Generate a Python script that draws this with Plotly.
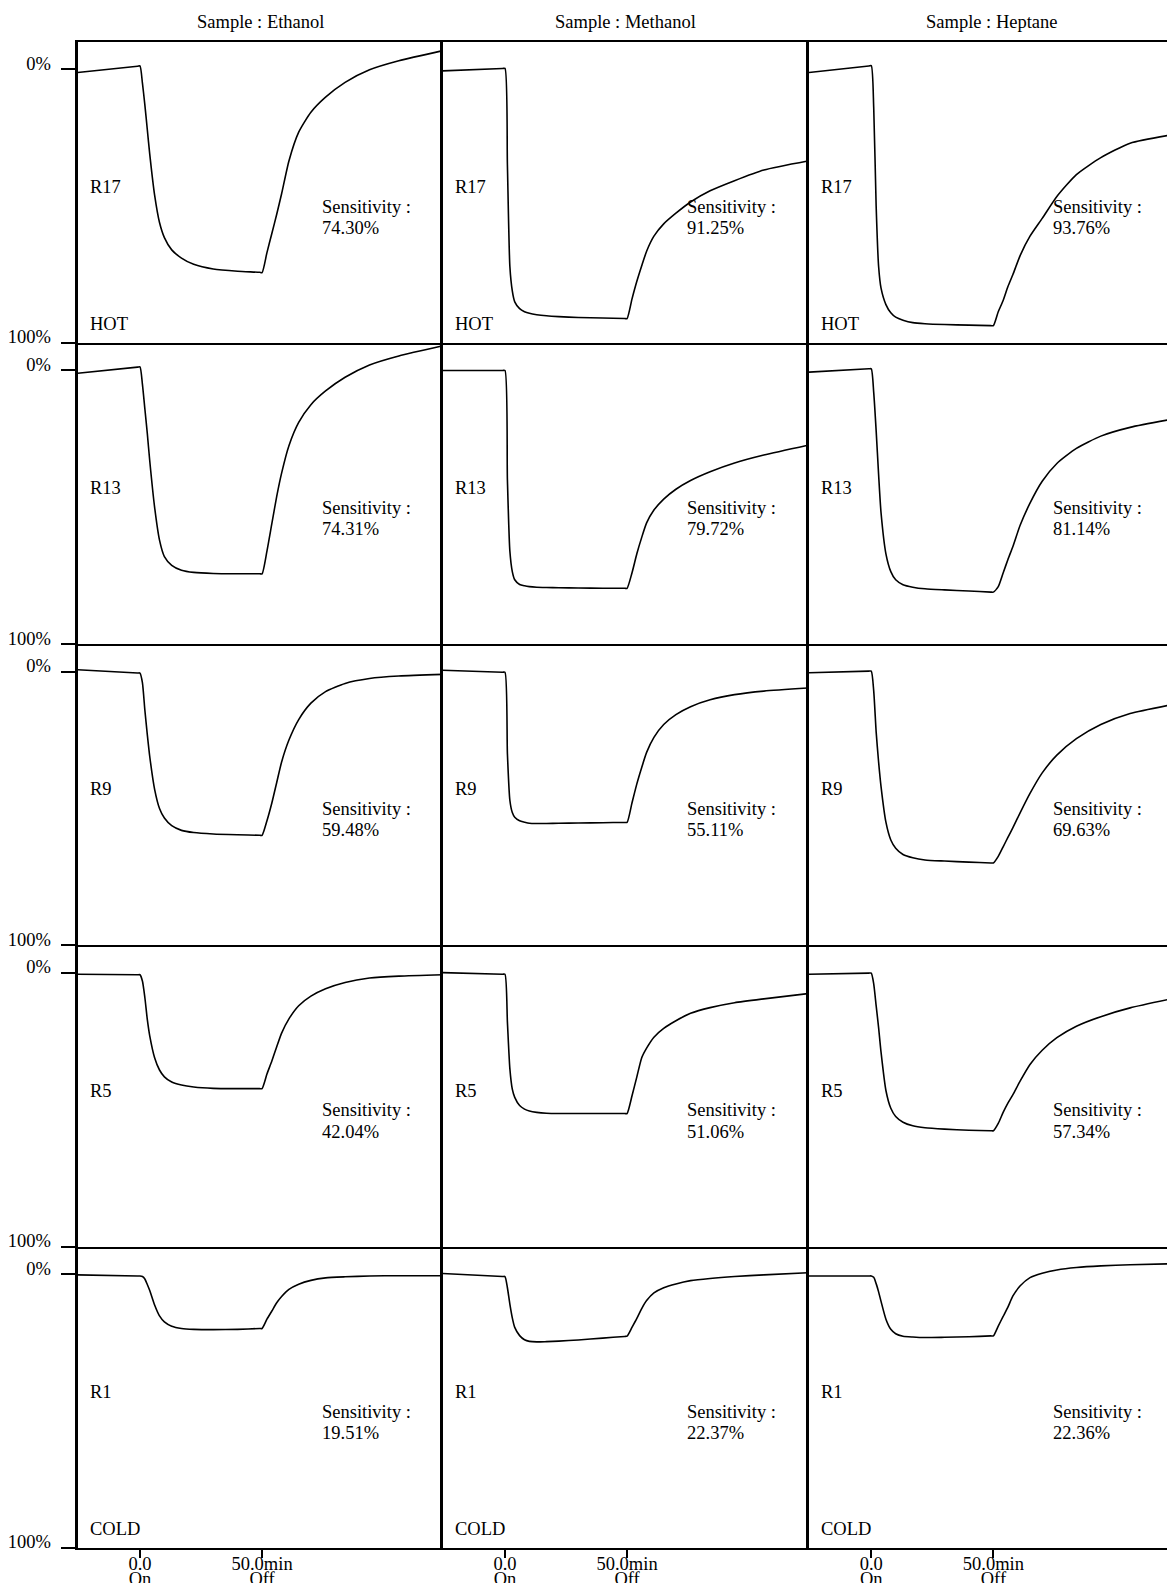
import plotly.graph_objects as go

# ---------------- data ----------------
samples = ["Ethanol", "Methanol", "Heptane"]
sensors = ["R17", "R13", "R9", "R5", "R1"]
row_notes = ["HOT", "", "", "", "COLD"]

time_min = [-25.5, -1, 0, 1, 2, 3, 4, 6, 8, 10, 13, 17, 22, 30, 40, 49, 50,
            52, 54, 56, 58, 61, 65, 70, 76, 84, 94, 106, 124]

ethanol_r17 = [1.2, -1.1, -1.2, 5, 13, 22, 31, 46, 56, 61.5, 66, 69, 71.3, 73, 73.8, 74.2, 74.3,
               67, 60, 53, 45.5, 33.5, 23, 15.7, 10.2, 4.8, 0.2, -3.1, -6.8]
ethanol_r13 = [1.0, -1.2, -1.3, 5, 14, 23, 33, 50, 62, 68, 71.2, 73, 73.8, 74.2, 74.3, 74.3, 74.3,
               66, 56, 46, 37.5, 27.5, 19, 12.5, 7.5, 2.5, -2, -5.3, -9]
ethanol_r9 = [-0.7, 0.5, 0.5, 4, 14, 23, 31, 43, 50, 53.5, 56.3, 58, 58.8, 59.3, 59.6, 59.8, 59.8,
              54.5, 48, 40.5, 33, 25, 17.5, 11.5, 7.3, 4.3, 2.5, 1.6, 1.0]
ethanol_r5 = [0.5, 0.7, 0.7, 3, 9, 17, 23, 31, 35.5, 38, 39.9, 41, 41.7, 42.2, 42.3, 42.3, 42.3,
              37, 32.2, 27, 22, 16.8, 12, 8.5, 5.8, 3.5, 1.9, 1.2, 0.7]
ethanol_r1 = [0.3, 0.7, 0.7, 0.9, 1.8, 3.8, 6, 11.3, 15.3, 17.5, 19.1, 19.9, 20.2, 20.3, 20.2, 19.9, 19.9,
              16.5, 13.5, 10.5, 8.2, 5.6, 3.7, 2.3, 1.4, 1.0, 0.7, 0.6, 0.6]

methanol_r17 = [0.6, -0.3, -0.3, 35, 72, 81, 85, 87.5, 88.6, 89.2, 89.7, 90.1, 90.4, 90.7, 90.9, 91.1, 91.1,
                84, 77.5, 71.8, 66.5, 61, 56.5, 52.6, 48.5, 44.4, 40.7, 36.8, 33.5]
methanol_r13 = [0.0, 0.0, 0.0, 40, 66, 73.5, 76.5, 78.2, 78.7, 79.0, 79.2, 79.3, 79.4, 79.5, 79.6, 79.6, 79.6,
                74, 67, 61, 55.7, 51, 47, 43.4, 40.2, 37, 33.8, 30.9, 27.3]
methanol_r9 = [-0.5, 0.2, 0.2, 30, 47, 51.5, 53.2, 54.5, 55, 55.4, 55.5, 55.5, 55.4, 55.3, 55.2, 55.1, 55.1,
               48, 41, 35, 29.5, 24, 19.3, 15.7, 12.8, 10.3, 8.4, 7.1, 6.0]
methanol_r5 = [-0.1, 0.5, 0.5, 18, 35, 42.5, 45.5, 48.5, 49.8, 50.5, 51, 51.3, 51.4, 51.4, 51.4, 51.4, 51.4,
               45, 38, 31, 27.5, 23.5, 20.3, 17.5, 14.8, 12.7, 10.9, 9.5, 7.6]
methanol_r1 = [-0.2, 0.9, 0.9, 5, 11, 16, 19.5, 22.5, 24, 24.6, 24.8, 24.7, 24.5, 24.1, 23.4, 22.8, 22.7,
               19.5, 16.2, 12.6, 9.7, 6.9, 5.0, 3.6, 2.4, 1.6, 0.9, 0.3, -0.5]

heptane_r17 = [1.2, -1.2, -1.3, 14, 50, 72, 80, 86, 89, 90.6, 91.7, 92.6, 93, 93.3, 93.5, 93.7, 93.7,
               88.6, 84.5, 79.3, 75, 68, 61, 54.5, 46.5, 38.5, 32.3, 27, 23.8]
heptane_r13 = [0.6, -0.6, -0.6, 8, 22, 38, 52, 67, 73.5, 76.5, 78.3, 79.2, 79.8, 80.2, 80.6, 81, 81,
               79, 74, 69, 64.3, 56.5, 48.5, 40.5, 34, 28.5, 24, 20.8, 17.7]
heptane_r9 = [0.4, -0.2, -0.2, 7, 22, 33, 42, 55, 61.5, 64.5, 66.8, 68, 68.8, 69.2, 69.6, 69.9, 69.9,
              67.5, 64, 60.5, 57, 51.5, 44.5, 37, 30.5, 24.5, 19.3, 15.3, 11.9]
heptane_r5 = [0.5, 0.1, 0.1, 4, 12, 20, 29, 43, 49.5, 52.5, 54.6, 55.9, 56.6, 57.1, 57.5, 57.7, 57.7,
              55, 51, 47.5, 44.5, 39.5, 33.5, 28.3, 23.7, 19.5, 16, 12.8, 9.3]
heptane_r1 = [0.7, 0.7, 0.7, 1.2, 3.5, 6.5, 10, 16.5, 20.2, 21.8, 22.7, 23, 23.2, 23.1, 22.9, 22.6, 22.6,
              19, 15.5, 12, 8, 4.3, 1.3, -0.3, -1.5, -2.4, -3, -3.4, -3.8]

sens_ethanol = ["74.30%", "74.31%", "59.48%", "42.04%", "19.51%"]
sens_methanol = ["91.25%", "79.72%", "55.11%", "51.06%", "22.37%"]
sens_heptane = ["93.76%", "81.14%", "69.63%", "57.34%", "22.36%"]

y_tick_vals = [0, 100]
y_tick_text = ["0%", "100%"]
x_tick_vals = [0, 50]
x_tick_text = ["0.0", "50.0min"]
x_tick_text2 = ["On", "Off"]

curves = [
    [ethanol_r17, methanol_r17, heptane_r17],
    [ethanol_r13, methanol_r13, heptane_r13],
    [ethanol_r9, methanol_r9, heptane_r9],
    [ethanol_r5, methanol_r5, heptane_r5],
    [ethanol_r1, methanol_r1, heptane_r1],
]
sens = [sens_ethanol, sens_methanol, sens_heptane]

# ---------------- layout geometry (pixels) ----------------
W, H = 1167, 1583
col_px = [(77.7, 442.7), (442.7, 809.0), (809.0, 1167.0)]
row_top0, row_h = 41.7, 301.2
px_per_min = 2.442
t_left = -25.5
y_range = [100, -10.07]

FONT = "Liberation Serif, Times New Roman, serif"
FS = 18.5
font = dict(family=FONT, size=FS, color="black")

fig = go.Figure()
layout = {}
annotations = []

for r in range(5):
    for c in range(3):
        n = r * 3 + c + 1
        x0, x1 = col_px[c]
        top = row_top0 + r * row_h
        bot = top + row_h
        xr = [t_left, t_left + (x1 - x0) / px_per_min]
        bottom_row = (r == 4)
        layout[f"xaxis{n}"] = dict(
            domain=[x0 / W, x1 / W], range=xr, anchor=f"y{n}",
            showline=True, linewidth=2, linecolor="black", mirror=(r == 0),
            showgrid=False, zeroline=False,
            ticks="outside" if bottom_row else "", ticklen=8, tickwidth=2, tickcolor="black",
            tickvals=x_tick_vals if bottom_row else [],
            ticktext=x_tick_text if bottom_row else [],
            showticklabels=bottom_row, tickfont=font, ticklabelstandoff=-10,
            automargin=False, fixedrange=True,
        )
        layout[f"yaxis{n}"] = dict(
            domain=[1 - bot / H, 1 - top / H], range=y_range, anchor=f"x{n}",
            showline=True, linewidth=3, linecolor="black",
            showgrid=False, zeroline=False,
            ticks="outside" if c == 0 else "", ticklen=14, tickwidth=2, tickcolor="black",
            tickvals=y_tick_vals if c == 0 else [],
            ticktext=y_tick_text if c == 0 else [],
            showticklabels=(c == 0), tickfont=font, ticklabelstandoff=6,
            ticklabelshift=6,
            automargin=False, fixedrange=True,
        )
        fig.add_trace(go.Scatter(
            x=time_min, y=curves[r][c], xaxis=f"x{n}", yaxis=f"y{n}",
            mode="lines", line=dict(color="black", width=1.6, shape="spline", smoothing=0.6),
            showlegend=False, hoverinfo="skip",
        ))
        annotations.append(dict(text=sensors[r], xref=f"x{n}", yref=f"y{n}", x=-21.3, y=43,
                                xanchor="left", yanchor="middle", showarrow=False, font=font))
        annotations.append(dict(text="Sensitivity :", xref=f"x{n}", yref=f"y{n}", x=73.8, y=50.3,
                                xanchor="left", yanchor="middle", showarrow=False, font=font))
        annotations.append(dict(text=sens[c][r], xref=f"x{n}", yref=f"y{n}", x=73.8, y=58,
                                xanchor="left", yanchor="middle", showarrow=False, font=font))
        if row_notes[r]:
            annotations.append(dict(text=row_notes[r], xref=f"x{n}", yref=f"y{n}", x=-21.3, y=93,
                                    xanchor="left", yanchor="middle", showarrow=False, font=font))
        if r == 0:
            annotations.append(dict(text=f"Sample : {samples[c]}", xref=f"x{n}", yref="paper",
                                    x=49.25, y=1 - 22 / H, xanchor="center", yanchor="middle",
                                    showarrow=False, font=font))

# second line of bottom tick labels ("On" / "Off")
for c in range(3):
    base = 13 + c
    n2 = 16 + c
    x0, x1 = col_px[c]
    xr = [t_left, t_left + (x1 - x0) / px_per_min]
    layout[f"xaxis{n2}"] = dict(
        overlaying=f"x{base}", anchor=f"y{base}", side="bottom", range=xr,
        showline=False, showgrid=False, zeroline=False, ticks="", ticklen=0,
        tickvals=x_tick_vals, ticktext=x_tick_text2, tickfont=font,
        ticklabelstandoff=18, automargin=False, fixedrange=True,
    )
    fig.add_trace(go.Scatter(x=[], y=[], xaxis=f"x{n2}", yaxis=f"y{base}",
                             mode="lines", showlegend=False, hoverinfo="skip"))

fig.update_layout(
    width=W, height=H, autosize=False,
    margin=dict(l=0, r=0, t=0, b=0, pad=0),
    paper_bgcolor="white", plot_bgcolor="white",
    template="none", showlegend=False,
    font=font, annotations=annotations,
    **layout,
)

fig.write_html("out.html", config={"displayModeBar": False})
